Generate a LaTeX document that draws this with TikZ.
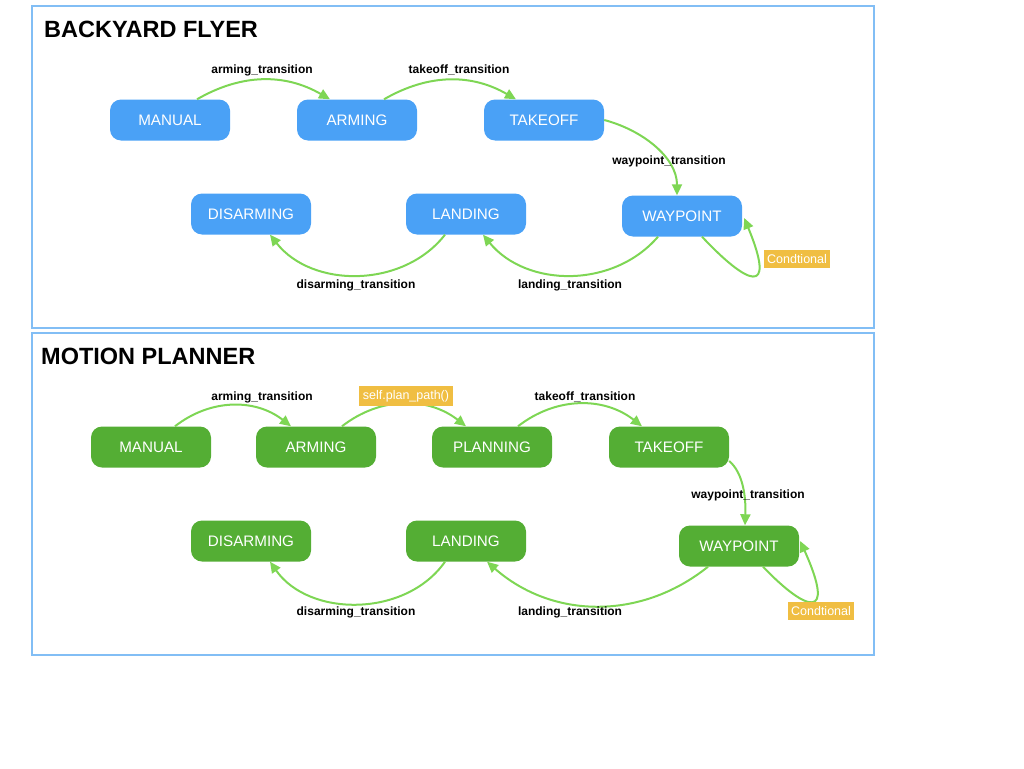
\documentclass[tikz,border=0pt]{standalone}
\usepackage{fontspec}
\setmainfont{Liberation Sans}
\usepackage{tikz}
\usetikzlibrary{arrows.meta}
\definecolor{stateblue}{RGB}{74,161,246}
\definecolor{stategreen}{RGB}{84,174,52}
\definecolor{arcgreen}{RGB}{126,214,84}
\definecolor{framblue}{RGB}{130,190,245}
\definecolor{condorange}{RGB}{240,190,66}

\begin{document}
\begin{tikzpicture}[
  x=1pt, y=-1pt,
  state/.style={rounded corners=11pt, minimum width=120pt, minimum height=41pt,
                text=white, inner sep=0pt, font=\fontsize{15.2}{17}\selectfont},
  blue state/.style={state, fill=stateblue},
  green state/.style={state, fill=stategreen},
  trans/.style={font=\bfseries\fontsize{12}{14}\selectfont, inner sep=1pt},
  cond/.style={fill=condorange, text=white, inner xsep=3.5pt, inner ysep=4.5pt,
               font=\fontsize{12.5}{14}\selectfont},
  panel/.style={draw=framblue, line width=2pt},
  title/.style={font=\bfseries\fontsize{23.5}{27}\selectfont, anchor=west, inner sep=0pt},
  arr/.style={-{Triangle[length=11pt, width=10pt]}, draw=arcgreen, line width=2pt}
]
\useasboundingbox (0,0) rectangle (1024,768);

% Panels
\draw[panel] (32,6) rectangle (874,328);
\draw[panel] (32,333) rectangle (874,655);
\node[title] (t1) at (44,29) {BACKYARD FLYER};
\node[title] (t2) at (41,356) {MOTION PLANNER};

% Backyard flyer
\node[blue state] (m1) at (170,120) {MANUAL};
\node[blue state] (a1) at (357,120) {ARMING};
\node[blue state] (k1) at (544,120) {TAKEOFF};
\node[blue state] (w1) at (682,216) {WAYPOINT};
\node[blue state] (l1) at (466,214) {LANDING};
\node[blue state] (d1) at (251,214) {DISARMING};

\draw[arr] ([xshift=27pt]m1.north) to[bend left=30] ([xshift=-27pt]a1.north);
\draw[arr] ([xshift=27pt]a1.north) to[bend left=30] ([xshift=-28pt]k1.north);
\draw[arr] (k1.east) .. controls +(38,10) and +(0,-38) .. ([xshift=-5pt]w1.north);
\draw[arr] ([xshift=-24pt]w1.south) to[bend left=50] ([xshift=17pt]l1.south);
\draw[arr] ([xshift=-21pt]l1.south) to[bend left=52] ([xshift=19pt]d1.south);
\draw[arr] ([xshift=20pt]w1.south) .. controls +(45,48) and +(33,80) .. ([xshift=2pt,yshift=-2pt]w1.east);

\node[trans] (lab1) at (262,70) {arming\_transition};
\node[trans] (lab2) at (459,70) {takeoff\_transition};
\node[trans] (lab3) at (669,161) {waypoint\_transition};
\node[trans] (lab4) at (570,285) {landing\_transition};
\node[trans] (lab5) at (356,285) {disarming\_transition};
\node[cond] (c1) at (797,259) {Condtional};

% Motion planner
\node[green state] (m2) at (151,447) {MANUAL};
\node[green state] (a2) at (316,447) {ARMING};
\node[green state] (p2) at (492,447) {PLANNING};
\node[green state] (k2) at (669,447) {TAKEOFF};
\node[green state] (w2) at (739,546) {WAYPOINT};
\node[green state] (l2) at (466,541) {LANDING};
\node[green state] (d2) at (251,541) {DISARMING};

\draw[arr] ([xshift=24pt]m2.north) to[bend left=38] ([xshift=-25pt]a2.north);
\draw[arr] ([xshift=26pt]a2.north) to[bend left=38] ([xshift=-26pt]p2.north);
\draw[arr] ([xshift=26pt]p2.north) to[bend left=38] ([xshift=-27pt]k2.north);
\draw[arr] ([yshift=-14pt]k2.east) .. controls +(14,12) and +(1,-28) .. ([xshift=6pt]w2.north);
\draw[arr] ([xshift=-31pt]w2.south) to[bend left=40] ([xshift=21pt]l2.south);
\draw[arr] ([xshift=-21pt]l2.south) to[bend left=55] ([xshift=19pt]d2.south);
\draw[arr] ([xshift=24pt]w2.south) .. controls +(44,46) and +(36,80) .. ([xshift=1pt,yshift=5pt]w2.east);

\node[trans] (lab6) at (262,397) {arming\_transition};
\node[cond] (c2) at (406,396) {self.plan\_path()};
\node[trans] (lab7) at (585,397) {takeoff\_transition};
\node[trans] (lab8) at (748,495) {waypoint\_transition};
\node[trans] (lab9) at (570,612) {landing\_transition};
\node[trans] (lab10) at (356,612) {disarming\_transition};
\node[cond] (c3) at (821,611) {Condtional};

\end{tikzpicture}
\end{document}
